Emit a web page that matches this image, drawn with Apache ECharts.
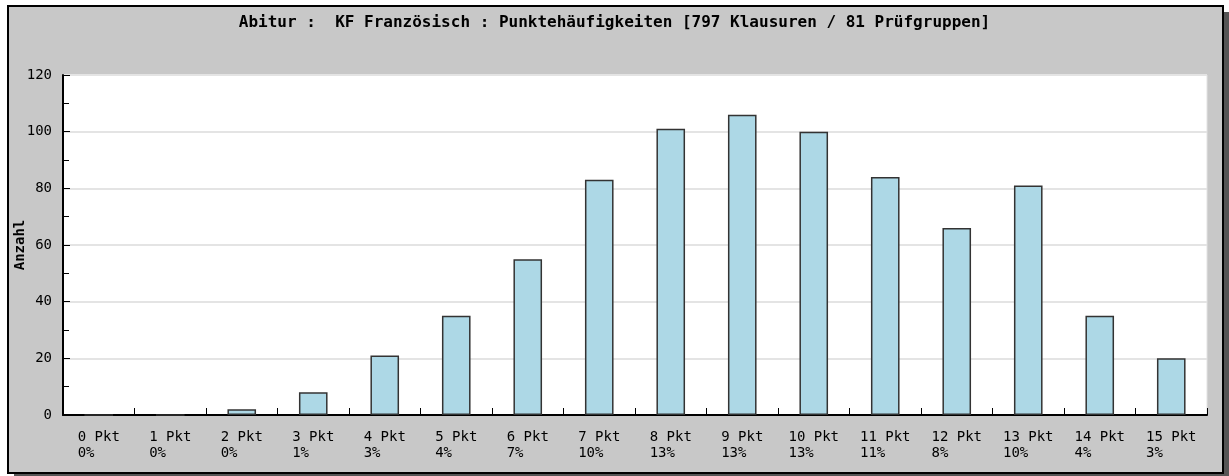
<!DOCTYPE html>
<html>
<head>
<meta charset="utf-8">
<script src="https://cdn.jsdelivr.net/npm/echarts@6/dist/echarts.min.js"></script>
<style>
html,body{margin:0;padding:0;background:#fff;}
#chart{width:1229px;height:476px;}
</style>
</head>
<body>
<div id="chart"></div>
<script>
const titleText = 'Abitur :  KF Französisch : Punktehäufigkeiten [797 Klausuren / 81 Prüfgruppen]';
const categories = ['0 Pkt','1 Pkt','2 Pkt','3 Pkt','4 Pkt','5 Pkt','6 Pkt','7 Pkt','8 Pkt','9 Pkt','10 Pkt','11 Pkt','12 Pkt','13 Pkt','14 Pkt','15 Pkt'];
const percentLabels = ['0%','0%','0%','1%','3%','4%','7%','10%','13%','13%','13%','11%','8%','10%','4%','3%'];
const counts = [0,0,2,8,21,35,55,83,101,106,100,84,66,81,35,20];
const yAxisName = 'Anzahl';

const mono = '"DejaVu Sans Mono", "Liberation Mono", monospace';
const chart = echarts.init(document.getElementById('chart'), null, {renderer:'canvas'});
chart.setOption({
  backgroundColor: '#ffffff',
  animation: false,
  graphic: [
    {type:'rect', shape:{x:14, y:12, width:1215, height:470}, style:{fill:'#555555'}, z:-10, silent:true},
    {type:'rect', shape:{x:8, y:6, width:1215, height:467}, style:{fill:'#c8c8c8', stroke:'#000', lineWidth:2}, z:-9, silent:true}
  ],
  title: {
    text: titleText,
    left: 'center',
    top: 10,
    textStyle: {fontFamily: mono, fontSize: 16, fontWeight: 'bold', color: '#000'}
  },
  grid: {
    left: 63, right: 22, top: 75, bottom: 61,
    show: true, backgroundColor: '#ffffff', borderColor: '#e2e2e2', borderWidth: 1,
    containLabel: false,
    outerBoundsMode: 'none'
  },
  xAxis: {
    type: 'category',
    data: categories,
    boundaryGap: true,
    axisLine: {lineStyle: {color: '#000', width: 2}},
    axisTick: {show: true, inside: true, length: 7, lineStyle: {color: '#000', width: 1}},
    axisLabel: {
      interval: 0,
      margin: 14,
      fontFamily: mono, fontSize: 14, color: '#000', lineHeight: 16,
      formatter: function (v, i) {
        const p = percentLabels[i];
        return v + '\n' + p.padEnd(v.length, ' ');
      }
    },
    splitLine: {show: false}
  },
  yAxis: {
    type: 'value',
    min: 0, max: 120, interval: 20,
    name: yAxisName,
    nameLocation: 'middle',
    nameRotate: 90,
    nameGap: 36,
    nameMoveOverlap: false,
    nameTextStyle: {fontFamily: mono, fontSize: 14, fontWeight: 'bold', color: '#000'},
    axisLine: {show: true, lineStyle: {color: '#000', width: 2}},
    axisTick: {show: true, inside: true, length: 7, lineStyle: {color: '#000', width: 1}},
    minorTick: {show: true, splitNumber: 2, length: 6, lineStyle: {color: '#000', width: 1}},
    axisLabel: {margin: 11, fontFamily: mono, fontSize: 14, color: '#000'},
    splitLine: {show: true, lineStyle: {color: '#e4e4e4', width: 2}}
  },
  series: [{
    type: 'bar',
    data: counts,
    barWidth: '40%',
    itemStyle: {color: '#add8e6', borderColor: '#333', borderWidth: 1.5}
  }]
});
</script>
</body>
</html>
